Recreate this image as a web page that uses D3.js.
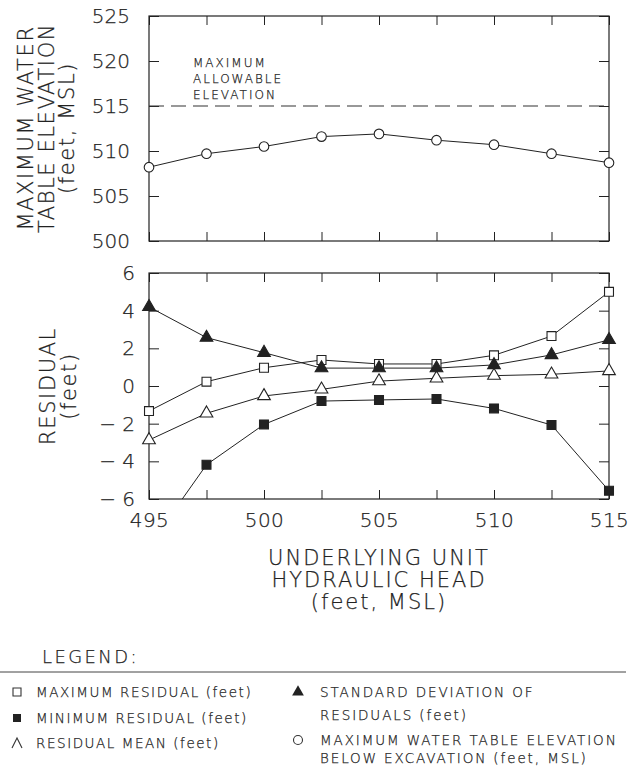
<!DOCTYPE html>
<html>
<head>
<meta charset="utf-8">
<script src="https://cdn.jsdelivr.net/npm/d3@7"></script>
<style>
  html, body { margin: 0; padding: 0; background: #fff; }
  svg { display: block; }
  text { font-family: "DejaVu Sans", "Liberation Sans", sans-serif; font-weight: 200; fill: #222; stroke: #222; stroke-width: 0.25px; }
</style>
</head>
<body>
<svg id="chart" width="642" height="766"></svg>
<script>
// ---- data ----
const heads = [495, 497.5, 500, 502.5, 505, 507.5, 510, 512.5, 515];
const maxWaterTable = [508.2, 509.7, 510.5, 511.6, 511.9, 511.2, 510.7, 509.7, 508.7];
const maxResidual = [-1.33, 0.23, 0.97, 1.38, 1.17, 1.17, 1.63, 2.65, 5.0];
const minResidual = [-8.5, -4.18, -2.04, -0.8, -0.74, -0.69, -1.19, -2.07, -5.56];
const residualMean = [-2.87, -1.45, -0.53, -0.18, 0.26, 0.41, 0.55, 0.62, 0.8];
const stdDevResidual = [4.2, 2.57, 1.77, 0.95, 0.95, 0.95, 1.12, 1.65, 2.45];
const maxAllowable = 515;
const xTicks = [495, 500, 505, 510, 515];
const xMinorTicks = [495, 497.5, 500, 502.5, 505, 507.5, 510, 512.5, 515];
const topYTicks = [500, 505, 510, 515, 520, 525];
const botYTicks = [-6, -4, -2, 0, 2, 4, 6];

const svg = d3.select("#chart");
const L = 149, R = 609;
const T1 = 16, B1 = 241, T2 = 273, B2 = 499;
const ink = "#222";

const x = d3.scaleLinear().domain([495, 515]).range([L, R]);
const yTop = d3.scaleLinear().domain([500, 525]).range([B1, T1]);
const yBot = d3.scaleLinear().domain([-6, 6]).range([B2, T2]);

function styleAxis(g) {
  g.select(".domain").remove();
  g.selectAll(".tick line").attr("stroke", ink).attr("stroke-width", 1);
  g.selectAll(".tick text").attr("fill", "#222").style("font-size", "20px")
    .style("font-family", '"DejaVu Sans", sans-serif').style("font-weight", "200");
}

function panel(yScale, yTicks, top, bottom, labelFmt) {
  svg.append("g").attr("transform", `translate(${L},0)`)
    .call(d3.axisLeft(yScale).tickValues(yTicks).tickSize(-10).tickPadding(labelFmt.pad).tickFormat(labelFmt.fmt))
    .call(styleAxis);
  svg.append("g").attr("transform", `translate(${R},0)`)
    .call(d3.axisRight(yScale).tickValues(yTicks).tickSize(-10).tickFormat(""))
    .call(styleAxis);
  svg.append("g").attr("transform", `translate(0,${top})`)
    .call(d3.axisTop(x).tickValues(xMinorTicks).tickSize(-9).tickFormat(""))
    .call(styleAxis);
  svg.append("g").attr("transform", `translate(0,${bottom})`)
    .call(d3.axisBottom(x).tickValues(xMinorTicks).tickSize(-9).tickFormat(""))
    .call(styleAxis);
  svg.append("rect").attr("x", L).attr("y", top).attr("width", R - L).attr("height", bottom - top)
    .attr("fill", "none").attr("stroke", ink).attr("stroke-width", 1.2);
}

panel(yTop, topYTicks, T1, B1, { pad: 19, fmt: d3.format("d") });
panel(yBot, botYTicks, T2, B2, { pad: 14, fmt: d => d < 0 ? "\u2212 " + Math.abs(d) : String(d) });

svg.append("g").attr("transform", `translate(0,${B2})`)
  .call(d3.axisBottom(x).tickValues(xTicks).tickSize(0).tickPadding(14).tickFormat(d3.format("d")))
  .call(styleAxis)
  .selectAll(".tick text").attr("dy", "0.71em").style("letter-spacing", "0.5px");

const defs = svg.append("defs");
defs.append("clipPath").attr("id", "clipTop").append("rect")
  .attr("x", L - 8).attr("y", T1).attr("width", R - L + 16).attr("height", B1 - T1);
defs.append("clipPath").attr("id", "clipBot").append("rect")
  .attr("x", L - 8).attr("y", T2).attr("width", R - L + 16).attr("height", B2 - T2);

// ---- top panel ----
svg.append("line").attr("x1", x(495)).attr("x2", x(515))
  .attr("y1", yTop(maxAllowable)).attr("y2", yTop(maxAllowable))
  .attr("stroke", "#333").attr("stroke-width", 1.1).attr("stroke-dasharray", "15,7");

const noteLines = ["MAXIMUM", "ALLOWABLE", "ELEVATION"];
svg.append("g").selectAll("text").data(noteLines).join("text")
  .attr("x", 193).attr("y", (d, i) => [67, 83, 98.5][i])
  .style("font-size", "12px").style("letter-spacing", "2px").text(d => d);

const line = (ys) => d3.line().x((d, i) => x(heads[i])).y(d => ys(d));

const gTop = svg.append("g").attr("clip-path", "url(#clipTop)");
gTop.append("path").datum(maxWaterTable).attr("d", line(yTop))
  .attr("fill", "none").attr("stroke", ink).attr("stroke-width", 1);
gTop.selectAll("circle").data(maxWaterTable).join("circle")
  .attr("cx", (d, i) => x(heads[i])).attr("cy", d => yTop(d)).attr("r", 4.8)
  .attr("fill", "#fff").attr("stroke", ink).attr("stroke-width", 1.1);

// ---- bottom panel ----
const gBot = svg.append("g").attr("clip-path", "url(#clipBot)");
const series = [
  { vals: maxResidual, type: "square", fill: "#fff" },
  { vals: residualMean, type: "triangle", fill: "#fff" },
  { vals: minResidual, type: "square", fill: ink },
  { vals: stdDevResidual, type: "triangle", fill: ink }
];
const symSquare = d3.symbol().type(d3.symbolSquare).size(80);
const symTri = d3.symbol().type(d3.symbolTriangle).size(70);
series.forEach(s => {
  gBot.append("path").datum(s.vals).attr("d", line(yBot))
    .attr("fill", "none").attr("stroke", ink).attr("stroke-width", 1);
});
series.forEach(s => {
  gBot.selectAll(null).data(s.vals).join("path")
    .attr("transform", (d, i) => `translate(${x(heads[i])},${yBot(d)})`)
    .attr("d", s.type === "square" ? symSquare() : symTri())
    .attr("fill", s.fill).attr("stroke", ink).attr("stroke-width", 1.1);
});

// ---- axis titles ----
function vTitle(lines, cx, cy, spacing) {
  const g = svg.append("g").attr("transform", `translate(${cx},${cy}) rotate(-90)`);
  g.selectAll("text").data(lines).join("text")
    .attr("x", 0).attr("y", (d, i) => i * spacing)
    .attr("text-anchor", "middle")
    .style("font-size", "21px").style("letter-spacing", "1.6px").text(d => d);
}
vTitle(["MAXIMUM WATER", "TABLE ELEVATION", "(feet, MSL)"], 33, 128, 20.5);
vTitle(["RESIDUAL", "(feet)"], 55, 386, 21);

svg.append("g").selectAll("text").data(["UNDERLYING UNIT", "HYDRAULIC HEAD", "(feet, MSL)"]).join("text")
  .attr("x", (L + R) / 2).attr("y", (d, i) => 565 + i * 22)
  .attr("text-anchor", "middle")
  .style("font-size", "21px").style("letter-spacing", "2px").text(d => d);

// ---- legend ----
svg.append("text").attr("x", 42).attr("y", 663).style("font-size", "18px").style("letter-spacing", "2.4px").text("LEGEND:");
svg.append("line").attr("x1", 0).attr("x2", 626).attr("y1", 672).attr("y2", 672)
  .attr("stroke", "#444").attr("stroke-width", 1);

const legendLeft = ["MAXIMUM RESIDUAL (feet)", "MINIMUM RESIDUAL (feet)", "RESIDUAL MEAN (feet)"];
const legendRight = [["STANDARD DEVIATION OF", "RESIDUALS (feet)"], ["MAXIMUM WATER TABLE ELEVATION", "BELOW EXCAVATION (feet, MSL)"]];
const lg = svg.append("g");
const lgSq = d3.symbol().type(d3.symbolSquare).size(64);
lg.append("path").attr("transform", "translate(17,692)").attr("d", lgSq()).attr("fill", "#fff").attr("stroke", "#333").attr("stroke-width", 1.1);
lg.append("path").attr("transform", "translate(17,718)").attr("d", lgSq()).attr("fill", "#222");
lg.append("path").attr("transform", "translate(17,743)").attr("d", "M-5,5L0,-5L5,5").attr("fill", "none").attr("stroke", "#333").attr("stroke-width", 1.1);
lg.selectAll("text.l").data(legendLeft).join("text").attr("class", "l")
  .attr("x", 36).attr("y", (d, i) => [697, 723, 748][i])
  .style("font-size", "13.5px").style("letter-spacing", "1.55px").text(d => d);

lg.append("path").attr("transform", "translate(298,692)").attr("d", d3.symbol().type(d3.symbolTriangle).size(60)()).attr("fill", "#222");
lg.append("circle").attr("cx", 298).attr("cy", 740).attr("r", 4.5).attr("fill", "#fff").attr("stroke", "#333").attr("stroke-width", 1.1);
const rightY = [[697, 720], [745, 763]];
legendRight.forEach((pair, j) => {
  lg.selectAll(null).data(pair).join("text")
    .attr("x", 320).attr("y", (d, i) => rightY[j][i])
    .style("font-size", "13.5px").style("letter-spacing", "1.9px").text(d => d);
});
</script>
</body>
</html>
